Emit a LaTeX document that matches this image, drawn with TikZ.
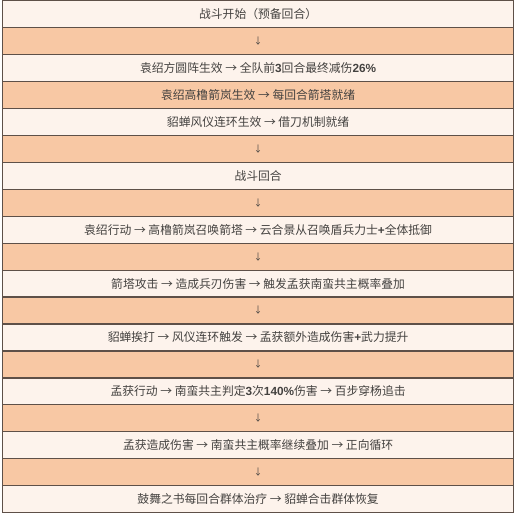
\documentclass[tikz,border=0pt]{standalone}
\usepackage{fontspec}
\newfontfamily\cjk{Noto Sans CJK SC}
\newfontfamily\numf{Liberation Sans}
\newcommand{\nb}[1]{{\numf\bfseries #1}}
\newcommand{\da}{{\fontsize{9}{10}\selectfont ↓}}
\definecolor{rowlight}{HTML}{FDF3EC}
\definecolor{roworange}{HTML}{F8C8A4}
\definecolor{rulecol}{HTML}{5E5048}
\definecolor{txtcol}{HTML}{444240}
\begin{document}
\begin{tikzpicture}[x=1pt,y=-1pt,
  rowbox/.style={draw=rulecol, line width=1.2pt, minimum width=511pt, minimum height=26.95pt,
    inner sep=0pt, font=\cjk\fontsize{11.8}{13}\selectfont, text=txtcol, anchor=north west},
  lite/.style={rowbox, fill=rowlight},
  dark/.style={rowbox, fill=roworange}]
\useasboundingbox (0,0) rectangle (516,514);
\fill[white] (0,0) rectangle (516,514);
\node[lite] (r1)  at (2, 0*26.95) {战斗开始（预备回合）};
\node[dark] (r2)  at (2, 1*26.95) {\da};
\node[lite] (r3)  at (2, 2*26.95) {袁绍方圆阵生效 → 全队前\nb{3}回合最终减伤\nb{26\%}};
\node[dark] (r4)  at (2, 3*26.95) {袁绍高橹箭岚生效 → 每回合箭塔就绪};
\node[lite] (r5)  at (2, 4*26.95) {貂蝉风仪连环生效 → 借刀机制就绪};
\node[dark] (r6)  at (2, 5*26.95) {\da};
\node[lite] (r7)  at (2, 6*26.95) {战斗回合};
\node[dark] (r8)  at (2, 7*26.95) {\da};
\node[lite] (r9)  at (2, 8*26.95) {袁绍行动 → 高橹箭岚召唤箭塔 → 云合景从召唤盾兵力士\nb{+}全体抵御};
\node[dark] (r10) at (2, 9*26.95) {\da};
\node[lite] (r11) at (2,10*26.95) {箭塔攻击 → 造成兵刃伤害 → 触发孟获南蛮共主概率叠加};
\node[dark] (r12) at (2,11*26.95) {\da};
\node[lite] (r13) at (2,12*26.95) {貂蝉挨打 → 风仪连环触发 → 孟获额外造成伤害\nb{+}武力提升};
\node[dark] (r14) at (2,13*26.95) {\da};
\node[lite] (r15) at (2,14*26.95) {孟获行动 → 南蛮共主判定\nb{3}次\nb{140\%}伤害 → 百步穿杨追击};
\node[dark] (r16) at (2,15*26.95) {\da};
\node[lite] (r17) at (2,16*26.95) {孟获造成伤害 → 南蛮共主概率继续叠加 → 正向循环};
\node[dark] (r18) at (2,17*26.95) {\da};
\node[lite] (r19) at (2,18*26.95) {鼓舞之书每回合群体治疗 → 貂蝉合击群体恢复};
\end{tikzpicture}
\end{document}
